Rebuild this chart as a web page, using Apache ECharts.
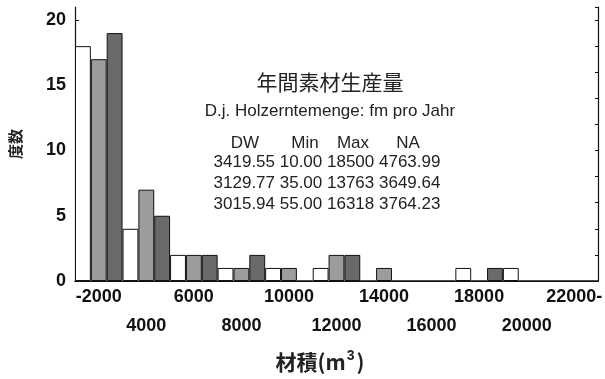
<!DOCTYPE html>
<html>
<head>
<meta charset="utf-8">
<script src="https://cdn.jsdelivr.net/npm/echarts@6/dist/echarts.min.js"></script>
<style>
  html, body { margin: 0; padding: 0; background: #fff; }
  #chart { width: 605px; height: 379px; }
</style>
</head>
<body>
<div id="chart"></div>
<script>
// Volume classes (m³) — one group of three bars per class
const classLabels = ['-2000', '4000', '6000', '8000', '10000', '12000', '14000', '16000', '18000', '20000', '22000-'];

// Frequency of each class for the three data sets
const countsA = [18, 4, 2, 1, 1, 1, 0, 0, 1, 1, 0];
const countsB = [17, 7, 2, 1, 1, 2, 1, 0, 0, 0, 0];
const countsC = [19, 5, 2, 2, 0, 2, 0, 0, 1, 0, 0];

// Summary table shown inside the plot
const tableHeader = ['DW', 'Min', 'Max', 'NA'];
const tableRows = [
  ['3419.55', '10.00', '18500', '4763.99'],
  ['3129.77', '35.00', '13763', '3649.64'],
  ['3015.94', '55.00', '16318', '3764.23']
];

const titleJa = '年間素材生産量';
const titleDe = 'D.j. Holzerntemenge: fm pro Jahr';

const chart = echarts.init(document.getElementById('chart'));

const sans = '"Liberation Sans", Arial, Helvetica, sans-serif';
const cjk = '"Noto Sans CJK JP", "Noto Sans CJK SC", sans-serif';

function barSeries(name, data, color) {
  return {
    name: name,
    type: 'bar',
    data: data,
    barGap: '0%',
    barCategoryGap: '0%',
    itemStyle: { color: color, borderColor: '#111', borderWidth: 1 },
    emphasis: { disabled: true },
    animation: false
  };
}

// Annotation block: title lines, table header and rows
const headerX = [245, 305, 353, 408];
const graphics = [];
graphics.push({
  type: 'text', x: 330, y: 82,
  style: { text: titleJa, font: '21px ' + cjk, fill: '#222', align: 'center', verticalAlign: 'middle' }
});
graphics.push({
  type: 'text', x: 330, y: 111,
  style: { text: titleDe, font: '17px ' + sans, fill: '#222', align: 'center', verticalAlign: 'middle' }
});
tableHeader.forEach(function (h, i) {
  graphics.push({
    type: 'text', x: headerX[i], y: 143,
    style: { text: h, font: '17px ' + sans, fill: '#222', align: 'center', verticalAlign: 'middle' }
  });
});
tableRows.forEach(function (row, r) {
  graphics.push({
    type: 'text', x: 327, y: 162 + r * 21.3,
    style: { text: row.join(' '), font: '17px ' + sans, fill: '#222', align: 'center', verticalAlign: 'middle' }
  });
});
// Horizontal axis title with superscript
graphics.push({
  type: 'text', x: 320, y: 361,
  style: {
    text: '{a|材積(m}{s|3}{a|)}',
    align: 'center', verticalAlign: 'middle',
    rich: {
      a: { font: 'bold 21px ' + cjk, fill: '#222', verticalAlign: 'bottom' },
      s: { font: 'bold 14px ' + sans, fill: '#222', verticalAlign: 'top', padding: [0, 2, 10, 1] }
    }
  }
});

chart.setOption({
  backgroundColor: '#fff',
  animation: false,
  grid: { left: 71, right: 6, top: 7, bottom: 98 },
  xAxis: [
    {
      type: 'category',
      data: classLabels,
      axisLine: { show: true, lineStyle: { color: '#111', width: 1.2 } },
      axisTick: { show: false },
      axisLabel: {
        interval: 0,
        margin: 2,
        lineHeight: 29,
        color: '#111',
        fontFamily: sans,
        fontWeight: 'bold',
        fontSize: 18,
        formatter: function (v, i) { return i % 2 === 0 ? v : '\n' + v; }
      }
    },
    {
      type: 'category',
      position: 'top',
      data: classLabels,
      axisLine: { show: true, lineStyle: { color: '#111', width: 1.2 } },
      axisTick: { show: false },
      axisLabel: { show: false }
    }
  ],
  yAxis: [
    {
      type: 'value',
      min: 0,
      max: 21,
      interval: 5,
      name: '度数',
      nameLocation: 'middle',
      nameRotate: 90,
      nameGap: 52,
      nameTextStyle: { fontFamily: cjk, fontWeight: 'bold', fontSize: 15, color: '#222' },
      axisLine: { show: true, lineStyle: { color: '#111', width: 1.2 } },
      axisTick: { show: true, inside: true, length: 4, lineStyle: { color: '#111' } },
      splitLine: { show: false },
      axisLabel: {
        showMaxLabel: false,
        margin: 9,
        color: '#111',
        fontFamily: sans,
        fontWeight: 'bold',
        fontSize: 18
      }
    },
    {
      type: 'value',
      position: 'right',
      min: 0,
      max: 21,
      interval: 2,
      axisLine: { show: true, lineStyle: { color: '#111', width: 1.2 } },
      axisTick: { show: true, inside: true, length: 3, lineStyle: { color: '#111' } },
      splitLine: { show: false },
      axisLabel: { show: false }
    }
  ],
  series: [
    barSeries('A', countsA, '#ffffff'),
    barSeries('B', countsB, '#9c9c9c'),
    barSeries('C', countsC, '#6a6a6a')
  ],
  graphic: graphics
});
</script>
</body>
</html>
